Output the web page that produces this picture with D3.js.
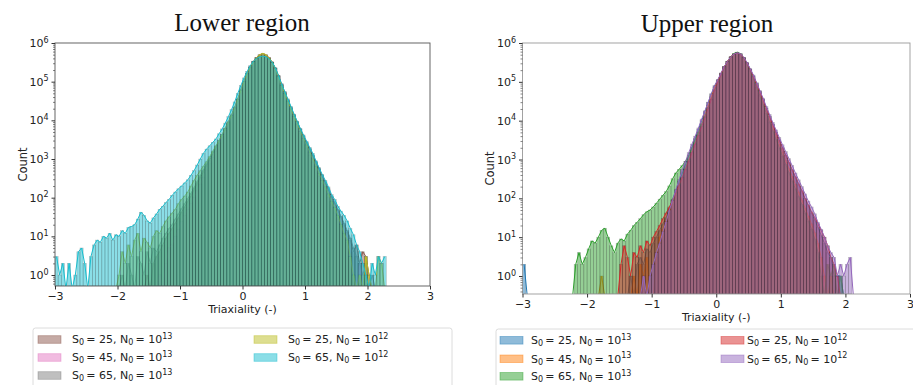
<!DOCTYPE html>
<html>
<head>
<meta charset="utf-8">
<script src="https://cdn.jsdelivr.net/npm/d3@7"></script>
<style>
  body { margin: 0; background: #fff; }
  svg { display: block; font-family: "DejaVu Sans", sans-serif; }
</style>
</head>
<body>
<svg id="chart" width="913" height="385"></svg>
<script>
// histogram bins: 0.05 wide, first bin starts at -3
let binStart = -3;
let binWidth = 0.05;

let xTicks = [-3, -2, -1, 0, 1, 2, 3];
let yExponents = [0, 1, 2, 3, 4, 5, 6];

// lower region (S0, N0 exponent per series)
let s0Lower = [25, 45, 65, 25, 65];
let n0Lower = [13, 13, 13, 12, 12];
let colorsLower = ['#8c564b', '#e377c2', '#7f7f7f', '#bcbd22', '#17becf'];

let brownLower = [
  0,0,0,0,0,0,0,0,0,0,
  0,0,0,0,0,0,0,0,0,0,
  0,0,0,0,0,0,0,0,0,1,
  0,2,3,4,6,9,12,16,22,30,
  42,58,80,110,160,230,330,470,680,950,
  1350,1900,2700,3900,5700,8500,1.3e4,2.1e4,3.5e4,6e4,
  1e5,1.6e5,2.4e5,3.3e5,4.2e5,4.9e5,5.2e5,4.9e5,4.1e5,3.2e5,
  2.2e5,1.4e5,8.5e4,5.2e4,3.3e4,2.1e4,1.35e4,8800,5800,3800,
  2600,1750,1200,800,540,360,240,160,105,70,
  48,32,20,13,8,4,6,2,4,3,
  1,0,0,0,0,0
];
let pinkLower = [
  0,0,0,0,0,0,0,0,0,0,
  0,0,0,0,0,0,0,0,0,0,
  0,0,0,0,0,0,0,0,0,0,
  0,0,0,1,0,2,5,6,10,15,
  24,35,50,70,100,150,220,330,520,750,
  1100,1600,2500,3700,5500,8000,1.2e4,2e4,3.5e4,6.5e4,
  1.05e5,1.6e5,2.4e5,3.3e5,4.2e5,4.9e5,5.2e5,4.9e5,4.2e5,3.2e5,
  2.2e5,1.35e5,8e4,4.8e4,3e4,1.85e4,1.15e4,7200,4500,2900,
  1900,1250,820,540,350,230,150,100,65,40,
  28,18,11,7,3,1,0,2,0,0,
  0,0,0,0,0,0
];
let grayLower = [
  0,0,0,0,0,0,0,0,0,0,
  0,0,0,0,0,0,0,0,0,0,
  0,1,0,2,1,0,3,2,1,4,
  2,5,4,6,9,12,16,20,28,38,
  52,70,95,130,180,260,370,520,740,1050,
  1500,2100,3000,4300,6300,9300,1.4e4,2.2e4,3.6e4,6.2e4,
  1.02e5,1.6e5,2.4e5,3.3e5,4.1e5,4.8e5,5e5,4.8e5,4.1e5,3.2e5,
  2.25e5,1.45e5,8.8e4,5.4e4,3.4e4,2.15e4,1.4e4,9200,6000,4000,
  2700,1850,1250,850,570,380,255,170,110,75,
  50,33,22,14,9,5,3,2,1,2,
  0,1,0,0,0,0
];
let oliveLower = [
  0,0,0,0,0,0,0,0,0,0,
  0,0,0,0,0,0,0,0,0,0,
  1,4,2,6,3,8,12,4,9,7,
  5,10,14,12,18,25,32,40,50,70,
  90,110,140,200,280,380,500,650,850,1150,
  1600,2200,3000,4300,6200,9000,1.35e4,2.1e4,3.5e4,6e4,
  1e5,1.6e5,2.4e5,3.3e5,4.2e5,5e5,5.4e5,5e5,4.2e5,3.2e5,
  2.2e5,1.35e5,8e4,4.9e4,3.1e4,1.95e4,1.25e4,8000,5200,3400,
  2300,1500,1000,650,430,280,190,125,80,55,
  35,20,12,8,3,1,0,1,0,3,
  1,0,0,3,2,0
];
let cyanLower = [
  3,1,2,0,2,0,1,4,5,2,
  0,3,6,8,7,10,9,12,8,11,
  10,14,12,17,18,20,28,42,35,25,
  22,30,38,50,60,75,90,115,140,170,
  200,240,290,380,500,700,1000,1400,1800,2200,
  2700,3300,4500,6000,8500,1.25e4,1.9e4,3e4,5e4,8e4,
  1.25e5,1.85e5,2.6e5,3.4e5,4e5,4.4e5,4.6e5,4.4e5,3.9e5,3.2e5,
  2.3e5,1.45e5,8.8e4,5.6e4,3.6e4,2.3e4,1.45e4,9500,6200,4200,
  2900,2000,1400,900,600,400,280,190,120,90,
  60,45,35,25,16,11,6,4,2,1,
  0,2,1,3,2,3
];

// upper region
let s0Upper = [25, 45, 65, 25, 65];
let n0Upper = [13, 13, 13, 12, 12];
let colorsUpper = ['#1f77b4', '#ff7f0e', '#2ca02c', '#d62728', '#9467bd'];

let blueUpper = [
  2,0,0,0,0,0,0,0,0,0,
  0,0,0,0,0,0,0,0,0,0,
  0,0,0,0,0,0,0,0,0,0,
  0,0,0,1,0,2,3,2,5,4,
  7,10,15,22,32,55,95,160,270,450,
  750,1250,2100,3500,6000,1e4,1.7e4,2.9e4,4.8e4,7.8e4,
  1.12e5,1.65e5,2.45e5,3.35e5,4.3e5,5.1e5,5.4e5,5.1e5,4.2e5,3.1e5,
  2.1e5,1.42e5,9e4,5.6e4,3.5e4,2.1e4,1.3e4,8000,5000,3100,
  2000,1300,820,530,340,225,150,98,64,42,
  28,18,11,7,4,3,1,1,1,0,
  0,0,0,0,0,0
];
let orangeUpper = [
  0,0,0,0,0,0,0,0,0,0,
  0,0,0,0,0,0,0,0,0,0,
  0,0,0,0,1,0,0,0,0,0,
  0,0,0,0,1,0,2,1,3,0,
  0,3,10,16,26,42,70,120,200,340,
  600,1000,1700,2900,5000,8500,1.45e4,2.5e4,4.3e4,7.2e4,
  1.1e5,1.65e5,2.45e5,3.4e5,4.4e5,5.2e5,5.5e5,5.1e5,4.1e5,3e5,
  2e5,1.3e5,8.2e4,5e4,3.1e4,1.85e4,1.1e4,6700,4100,2500,
  1550,950,590,370,230,145,90,56,35,22,
  13,7,3,1,0,1,0,0,0,0,
  0,0,0,0,0,0
];
let greenUpper = [
  0,0,0,0,0,0,0,0,0,0,
  0,0,0,0,0,0,2,4,2,3,
  5,8,7,10,15,17,10,6,4,7,
  9,8,12,15,20,24,30,38,45,50,
  60,75,95,120,150,210,320,450,560,700,
  900,1300,2000,3300,5000,8000,1.3e4,2.2e4,3.6e4,6e4,
  9.5e4,1.5e5,2.3e5,3.3e5,4.4e5,5.4e5,5.8e5,5.3e5,4.1e5,2.9e5,
  1.9e5,1.2e5,7.3e4,4.4e4,2.6e4,1.55e4,9200,5500,3300,2000,
  1200,750,460,280,175,110,70,42,26,16,
  9,4,1,0,2,1,2,0,1,0,
  0,0,0,0,0,0
];
let redUpper = [
  0,0,0,0,0,0,0,0,0,0,
  0,0,0,0,0,0,0,0,0,0,
  0,0,0,0,0,0,0,0,0,0,
  2,6,3,1,4,3,6,4,8,6,
  10,14,20,30,42,60,90,140,220,350,
  560,900,1500,2500,4200,7000,1.2e4,2.1e4,3.6e4,6.2e4,
  1e5,1.6e5,2.4e5,3.35e5,4.4e5,5.2e5,5.5e5,5.2e5,4.2e5,3.1e5,
  2.1e5,1.4e5,9e4,5.6e4,3.5e4,2.1e4,1.3e4,8000,5000,3200,
  2000,1300,850,550,360,240,160,100,68,45,
  32,22,15,10,6,3,2,1,0,0,
  0,0,0,0,0,0
];
let purpleUpper = [
  0,0,0,0,0,0,0,0,0,0,
  0,0,0,0,0,0,0,0,0,0,
  0,0,0,0,0,0,0,0,0,0,
  0,0,0,0,0,0,0,1,0,1,
  2,4,7,14,25,50,90,170,300,550,
  900,1500,2500,4000,6500,1.1e4,1.8e4,3e4,5e4,8e4,
  1.15e5,1.7e5,2.5e5,3.4e5,4.4e5,5.2e5,5.6e5,5.3e5,4.3e5,3.2e5,
  2.2e5,1.5e5,9.5e4,6e4,3.8e4,2.3e4,1.45e4,9000,5800,3700,
  2400,1600,1050,700,450,300,200,130,85,60,
  40,24,16,10,6,4,3,1,2,1,
  2,3,0,0,0,0
];

let panels = [
  {
    id: 'lower', title: 'Lower region', titleX: 242, titleY: 31,
    left: 55, right: 430, top: 43, bottom: 286, yMin: 0.52, frame: '#555',
    xLabelY: 313, countX: 26.5,
    s0: s0Lower, n0: n0Lower, colors: colorsLower,
    values: [brownLower, pinkLower, grayLower, oliveLower, cyanLower],
    legend: { x: 33, y: 328, w: 419, patchX: [38, 254], textX: [72, 288], rows: [339.5, 357.5, 375.5] }
  },
  {
    id: 'upper', title: 'Upper region', titleX: 707, titleY: 32,
    left: 522.5, right: 910, top: 43, bottom: 294, yMin: 0.344, frame: '#999',
    xLabelY: 321, countX: 493.5,
    s0: s0Upper, n0: n0Upper, colors: colorsUpper,
    values: [blueUpper, orangeUpper, greenUpper, redUpper, purpleUpper],
    legend: { x: 496, y: 329, w: 430, patchX: [500, 721], textX: [531, 747], rows: [340.3, 358.8, 376.3] }
  }
];

let svg = d3.select('#chart');
let defs = svg.append('defs');

let minorTicks = [];
[-1, 0, 1, 2, 3, 4, 5].forEach(e => {
  [2, 3, 4, 5, 6, 7, 8, 9].forEach(m => minorTicks.push(m * Math.pow(10, e)));
});

let fmtMinus = d => (d < 0 ? '\u2212' + Math.abs(d) : '' + d);

function drawPanel(p) {
  let x = d3.scaleLinear().domain([-3, 3]).range([p.left, p.right]);
  let y = d3.scaleLog().domain([p.yMin, 1e6]).range([p.bottom, p.top]);
  let g = svg.append('g').attr('class', p.id);

  defs.append('clipPath').attr('id', 'clip-' + p.id)
    .append('rect')
    .attr('x', p.left).attr('y', p.top)
    .attr('width', p.right - p.left).attr('height', p.bottom - p.top);

  let plot = g.append('g').attr('clip-path', 'url(#clip-' + p.id + ')');
  let bw = x(binStart + binWidth) - x(binStart);

  p.values.forEach((vals, k) => {
    let bins = vals.map((v, i) => ({ x0: binStart + i * binWidth, count: v }));
    let color = p.colors[k];

    plot.append('g').selectAll('rect')
      .data(bins.filter(b => b.count > 0))
      .enter()
      .append('rect')
      .attr('x', b => x(b.x0))
      .attr('width', bw)
      .attr('y', b => y(b.count))
      .attr('height', b => p.bottom - y(b.count))
      .attr('fill', color)
      .attr('fill-opacity', 0.5)
      .attr('stroke', '#1a1a1a')
      .attr('stroke-opacity', 0.28)
      .attr('stroke-width', 0.55);

    let line = d3.line()
      .x(b => x(b.x0 + binWidth / 2))
      .y(b => (b.count > 0 ? y(b.count) : p.bottom + 3));
    plot.append('path')
      .datum(bins)
      .attr('d', line)
      .attr('fill', 'none')
      .attr('stroke', color)
      .attr('stroke-width', 1)
      .attr('stroke-linejoin', 'round');
  });

  // frame
  g.append('rect')
    .attr('x', p.left).attr('y', p.top)
    .attr('width', p.right - p.left).attr('height', p.bottom - p.top)
    .attr('fill', 'none').attr('stroke', p.frame).attr('stroke-width', 0.9);

  // x axis
  let xAxis = d3.axisBottom(x).tickValues(xTicks).tickSize(3.5).tickPadding(3).tickFormat(fmtMinus);
  let xa = g.append('g').attr('transform', 'translate(0,' + p.bottom + ')').call(xAxis);
  xa.select('.domain').remove();
  xa.selectAll('.tick line').attr('stroke', '#333');
  xa.selectAll('.tick text').attr('fill', '#222').style('font-size', '11px').style('font-family', 'DejaVu Sans');

  // y axis, major + minor
  let yAxis = d3.axisLeft(y).tickValues(yExponents.map(e => Math.pow(10, e)))
    .tickSize(3.5).tickPadding(3).tickFormat(() => '');
  let ya = g.append('g').attr('transform', 'translate(' + p.left + ',0)').call(yAxis);
  ya.select('.domain').remove();
  ya.selectAll('.tick line').attr('stroke', '#333');
  ya.selectAll('.tick text')
    .attr('fill', '#222')
    .style('font-size', '11px')
    .style('font-family', 'DejaVu Sans')
    .each(function(d, i) {
      let t = d3.select(this);
      t.append('tspan').text('10');
      t.append('tspan').attr('dy', -4.5).style('font-size', '8px').text(yExponents[i]);
    });

  let minorAxis = d3.axisLeft(y)
    .tickValues(minorTicks.filter(v => v >= p.yMin && v <= 1e6))
    .tickSize(2).tickFormat(() => '');
  let ma = g.append('g').attr('transform', 'translate(' + p.left + ',0)').call(minorAxis);
  ma.select('.domain').remove();
  ma.selectAll('.tick line').attr('stroke', '#333').attr('stroke-width', 0.6);

  // labels
  g.append('text')
    .attr('x', p.titleX).attr('y', p.titleY)
    .attr('text-anchor', 'middle')
    .style('font-family', '"Liberation Serif", serif')
    .style('font-size', '25px')
    .attr('fill', '#111')
    .text(p.title);

  g.append('text')
    .attr('x', (p.left + p.right) / 2).attr('y', p.xLabelY)
    .attr('text-anchor', 'middle')
    .style('font-size', '11px')
    .attr('fill', '#222')
    .text('Triaxiality (-)');

  g.append('text')
    .attr('transform', 'translate(' + p.countX + ',' + (p.top + p.bottom) / 2 + ') rotate(-90)')
    .attr('text-anchor', 'middle')
    .style('font-size', '11.5px')
    .attr('fill', '#222')
    .text('Count');

  // legend
  let L = p.legend;
  g.append('rect')
    .attr('x', L.x).attr('y', L.y)
    .attr('width', L.w).attr('height', 80)
    .attr('rx', 2.5)
    .attr('fill', '#fff')
    .attr('stroke', '#d8d8d8')
    .attr('stroke-width', 0.9);

  let items = g.append('g').selectAll('g')
    .data(p.colors.map((c, k) => ({ color: c, s0: p.s0[k], n0: p.n0[k], col: k < 3 ? 0 : 1, row: k < 3 ? k : k - 3 })))
    .enter()
    .append('g');

  items.append('rect')
    .attr('x', d => L.patchX[d.col])
    .attr('y', d => L.rows[d.row] - 3.8)
    .attr('width', 23)
    .attr('height', 7.6)
    .attr('fill', d => d.color)
    .attr('fill-opacity', 0.5)
    .attr('stroke', d => d.color)
    .attr('stroke-opacity', 0.5)
    .attr('stroke-width', 0.8);

  let txt = items.append('text')
    .attr('x', d => L.textX[d.col])
    .attr('y', d => L.rows[d.row] + 3.8)
    .style('font-size', '11px')
    .attr('fill', '#222');
  txt.append('tspan').text('S');
  txt.append('tspan').attr('dy', 2).style('font-size', '8px').text('0');
  txt.append('tspan').attr('dy', -2).text(d => '\u2009= ' + d.s0 + ', N');
  txt.append('tspan').attr('dy', 2).style('font-size', '8px').text('0');
  txt.append('tspan').attr('dy', -2).text('\u2009= 10');
  txt.append('tspan').attr('dy', -4.5).style('font-size', '8px').text(d => d.n0);
}

panels.forEach(drawPanel);
</script>
</body>
</html>
